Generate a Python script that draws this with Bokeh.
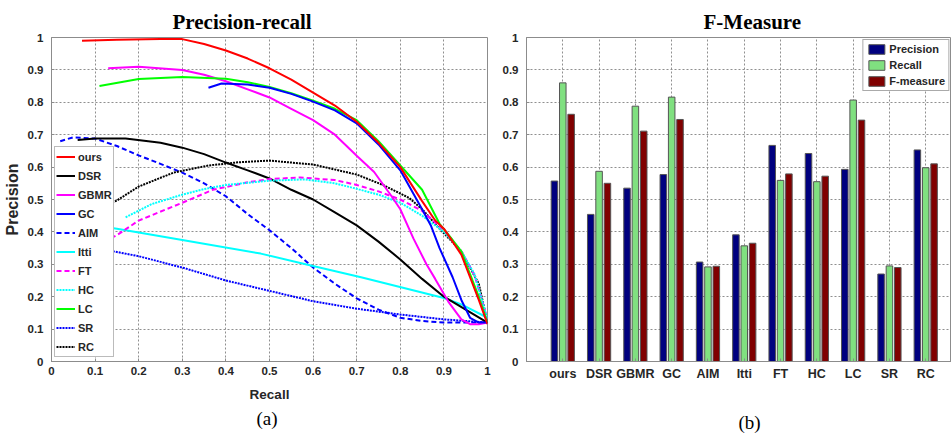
from bokeh.plotting import figure
from bokeh.layouts import row
from bokeh.models import Legend, LegendItem, Title, FixedTicker, ColumnDataSource
from bokeh.transform import dodge
from bokeh.embed import file_html
from bokeh.resources import INLINE

# ---------------- data: precision-recall curves ----------------
ours_r = [0.07, 0.15, 0.25, 0.3, 0.35, 0.4, 0.45, 0.5, 0.55, 0.6, 0.65, 0.7, 0.75, 0.8, 0.85, 0.88, 0.9, 0.92, 0.94, 0.96, 0.98, 1.0]
ours_p = [0.99, 0.993, 0.995, 0.995, 0.98, 0.96, 0.935, 0.905, 0.87, 0.83, 0.79, 0.74, 0.675, 0.6, 0.495, 0.435, 0.41, 0.37, 0.33, 0.26, 0.19, 0.115]

dsr_r = [0.06, 0.1, 0.17, 0.25, 0.3, 0.35, 0.4, 0.45, 0.5, 0.55, 0.6, 0.65, 0.7, 0.75, 0.8, 0.85, 0.9, 0.95, 1.0]
dsr_p = [0.684, 0.688, 0.688, 0.675, 0.66, 0.64, 0.614, 0.59, 0.565, 0.53, 0.5, 0.46, 0.42, 0.37, 0.315, 0.255, 0.2, 0.16, 0.12]

gbmr_r = [0.13, 0.2, 0.3, 0.35, 0.4, 0.45, 0.5, 0.55, 0.6, 0.65, 0.7, 0.74, 0.78, 0.8, 0.83, 0.86, 0.88, 0.91, 0.94, 0.96, 0.98, 1.0]
gbmr_p = [0.905, 0.91, 0.9, 0.885, 0.865, 0.84, 0.815, 0.78, 0.745, 0.7, 0.635, 0.585, 0.51, 0.47, 0.38, 0.3, 0.255, 0.185, 0.13, 0.115, 0.115, 0.12]

gc_r = [0.36, 0.39, 0.45, 0.5, 0.55, 0.6, 0.65, 0.7, 0.75, 0.8, 0.85, 0.87, 0.89, 0.92, 0.94, 0.96, 0.98, 1.0]
gc_p = [0.845, 0.858, 0.855, 0.845, 0.826, 0.802, 0.775, 0.735, 0.67, 0.59, 0.47, 0.42, 0.35, 0.26, 0.19, 0.135, 0.12, 0.12]

aim_r = [0.02, 0.05, 0.1, 0.15, 0.2, 0.25, 0.3, 0.35, 0.4, 0.45, 0.5, 0.55, 0.6, 0.65, 0.7, 0.75, 0.8, 0.85, 0.9, 0.95, 1.0]
aim_p = [0.68, 0.692, 0.688, 0.665, 0.636, 0.61, 0.583, 0.55, 0.51, 0.455, 0.405, 0.35, 0.29, 0.24, 0.195, 0.16, 0.135, 0.125, 0.12, 0.12, 0.12]

itti_r = [0.1, 0.15, 0.3, 0.48, 0.59, 0.71, 0.9, 0.94, 1.0]
itti_p = [0.42, 0.41, 0.375, 0.333, 0.298, 0.26, 0.196, 0.176, 0.135]

ft_r = [0.12, 0.15, 0.2, 0.3, 0.37, 0.45, 0.5, 0.57, 0.65, 0.7, 0.75, 0.8, 0.85, 0.9, 0.94, 0.97, 1.0]
ft_p = [0.37, 0.39, 0.435, 0.49, 0.53, 0.553, 0.563, 0.568, 0.56, 0.545, 0.525, 0.5, 0.465, 0.405, 0.34, 0.268, 0.13]

hc_r = [0.17, 0.23, 0.3, 0.35, 0.4, 0.5, 0.58, 0.65, 0.7, 0.75, 0.8, 0.85, 0.9, 0.94, 0.97, 1.0]
hc_p = [0.445, 0.486, 0.515, 0.532, 0.545, 0.558, 0.562, 0.55, 0.533, 0.515, 0.49, 0.45, 0.4, 0.34, 0.27, 0.13]

lc_r = [0.11, 0.2, 0.3, 0.4, 0.45, 0.5, 0.55, 0.6, 0.65, 0.7, 0.75, 0.8, 0.85, 0.89, 0.92, 0.94, 0.96, 0.98, 1.0]
lc_p = [0.85, 0.872, 0.878, 0.873, 0.862, 0.847, 0.828, 0.805, 0.78, 0.745, 0.68, 0.605, 0.53, 0.425, 0.375, 0.34, 0.27, 0.2, 0.12]

sr_r = [0.1, 0.15, 0.2, 0.3, 0.4, 0.5, 0.6, 0.7, 0.8, 0.9, 1.0]
sr_p = [0.35, 0.338, 0.325, 0.29, 0.25, 0.218, 0.186, 0.163, 0.145, 0.13, 0.12]

rc_r = [0.12, 0.15, 0.2, 0.28, 0.36, 0.43, 0.5, 0.6, 0.7, 0.76, 0.82, 0.85, 0.89, 0.94, 0.98, 1.0]
rc_p = [0.48, 0.497, 0.54, 0.583, 0.605, 0.615, 0.62, 0.608, 0.577, 0.545, 0.505, 0.47, 0.41, 0.34, 0.24, 0.12]

# ---------------- data: F-measure bars ----------------
methods = ["ours", "DSR", "GBMR", "GC", "AIM", "Itti", "FT", "HC", "LC", "SR", "RC"]
precision = [0.557, 0.454, 0.535, 0.577, 0.307, 0.391, 0.667, 0.642, 0.593, 0.270, 0.653]
recall    = [0.860, 0.587, 0.788, 0.816, 0.292, 0.357, 0.559, 0.555, 0.807, 0.295, 0.598]
fmeasure  = [0.763, 0.550, 0.711, 0.747, 0.294, 0.365, 0.579, 0.572, 0.745, 0.290, 0.610]

unit_ticks = [0, 0.1, 0.2, 0.3, 0.4, 0.5, 0.6, 0.7, 0.8, 0.9, 1]
unit_tick_labels = ["0", "0.1", "0.2", "0.3", "0.4", "0.5", "0.6", "0.7", "0.8", "0.9", "1"]

SANS = "Liberation Sans"
SERIF = "Liberation Serif"
GRID = "#8f8f8f"
AXIS = "#8c8c8c"
TXT = "#262626"


def style(p):
    p.outline_line_color = AXIS
    p.background_fill_color = "white"
    p.border_fill_color = "white"
    p.grid.grid_line_color = GRID
    p.grid.grid_line_dash = "2 2"
    p.grid.grid_line_width = 1
    for ax in p.axis:
        ax.axis_line_color = AXIS
        ax.major_tick_line_color = AXIS
        ax.major_tick_in = 3
        ax.major_tick_out = 0
        ax.minor_tick_line_color = None
        ax.major_label_text_font = SANS
        ax.major_label_text_font_style = "bold"
        ax.major_label_text_color = TXT
    p.yaxis.ticker = FixedTicker(ticks=unit_ticks)
    p.yaxis.major_label_overrides = dict(zip(unit_ticks, unit_tick_labels))
    p.yaxis.major_label_text_font_size = "11.5px"
    p.yaxis.major_label_standoff = 8
    p.xaxis.major_label_standoff = 5
    p.xaxis.axis_label_text_font = SANS
    p.xaxis.axis_label_text_font_style = "bold"
    p.xaxis.axis_label_text_font_size = "13.5px"
    p.xaxis.axis_label_text_color = TXT
    p.xaxis.axis_label_standoff = 5
    p.title.text_font = SERIF
    p.title.text_font_style = "bold"
    p.title.text_font_size = "21px"
    p.title.text_color = "black"
    p.title.align = "left"
    p.title.standoff = 8


def caption(p, text, left_offset, standoff):
    p.add_layout(Title(text=text, align="left", offset=left_offset, text_font=SERIF,
                       text_font_style="normal", text_font_size="19px", text_color="black",
                       standoff=standoff), "below")


# ---------------- left: precision-recall ----------------
p1 = figure(width=492, height=435, x_range=(0, 1), y_range=(0, 1),
            title="Precision-recall",
            output_backend="svg", toolbar_location=None,
            min_border_left=50, min_border_right=5, min_border_top=37, min_border_bottom=71)
style(p1)
p1.title.offset = 121
p1.xaxis.ticker = FixedTicker(ticks=unit_ticks)
p1.xaxis.major_label_overrides = dict(zip(unit_ticks, unit_tick_labels))
p1.xaxis.major_label_text_font_size = "11.5px"
p1.xaxis.axis_label = "Recall"
p1.xaxis.axis_label_standoff = 9
p1.yaxis.axis_label = "Precision"
p1.yaxis.axis_label_text_font = SANS
p1.yaxis.axis_label_text_font_style = "bold"
p1.yaxis.axis_label_text_font_size = "16px"
p1.yaxis.axis_label_text_color = TXT
p1.yaxis.axis_label_standoff = 4

series = [
    ("ours", ours_r, ours_p, "#FF0000", "solid"),
    ("DSR", dsr_r, dsr_p, "#000000", "solid"),
    ("GBMR", gbmr_r, gbmr_p, "#FF00FF", "solid"),
    ("GC", gc_r, gc_p, "#0000FF", "solid"),
    ("AIM", aim_r, aim_p, "#0000FF", "5 3"),
    ("Itti", itti_r, itti_p, "#00FFFF", "solid"),
    ("FT", ft_r, ft_p, "#FF00FF", "5 3"),
    ("HC", hc_r, hc_p, "#00FFFF", "2 1"),
    ("LC", lc_r, lc_p, "#00FF00", "solid"),
    ("SR", sr_r, sr_p, "#0000FF", "2 1"),
    ("RC", rc_r, rc_p, "#000000", "2 1"),
]
draw_order = ["SR", "AIM", "Itti", "DSR", "RC", "FT", "HC", "GBMR", "LC", "GC", "ours"]
renderers = {}
for name in draw_order:
    s = [t for t in series if t[0] == name][0]
    renderers[name] = p1.line(s[1], s[2], line_color=s[3], line_width=2, line_dash=s[4])

leg1 = Legend(items=[LegendItem(label=s[0], renderers=[renderers[s[0]]]) for s in series],
              location=(3, 4), margin=0, padding=1, spacing=2,
              glyph_width=19, glyph_height=17, label_height=17, label_standoff=3,
              label_text_font=SANS, label_text_font_style="bold", label_text_font_size="11px",
              label_text_color=TXT,
              border_line_color="#777777", border_line_width=1, background_fill_alpha=1.0)
p1.add_layout(leg1)
caption(p1, "(a)", 205, 2)

# ---------------- right: F-measure bars ----------------
xpos = list(range(1, len(methods) + 1))
src = ColumnDataSource(dict(x=xpos, precision=precision, recall=recall, fmeasure=fmeasure))

p2 = figure(width=459, height=435, x_range=(0, 11.71), y_range=(0, 1),
            title="F-Measure",
            output_backend="svg", toolbar_location=None,
            min_border_left=34, min_border_right=0, min_border_top=37, min_border_bottom=71)
style(p2)
p2.title.offset = 177
p2.xaxis.ticker = FixedTicker(ticks=xpos)
p2.xaxis.major_label_overrides = dict(zip(xpos, methods))
p2.xaxis.major_label_text_font_size = "12.5px"
p2.xaxis.axis_label = " "

bw = 0.18
b1 = p2.vbar(x=dodge("x", -0.23, range=p2.x_range), top="precision", width=bw, source=src,
             fill_color="#00007F", line_color="#555555", line_width=1)
b2 = p2.vbar(x=dodge("x", 0.0, range=p2.x_range), top="recall", width=bw, source=src,
             fill_color="#80E080", line_color="#555555", line_width=1)
b3 = p2.vbar(x=dodge("x", 0.23, range=p2.x_range), top="fmeasure", width=bw, source=src,
             fill_color="#800000", line_color="#555555", line_width=1)

leg2 = Legend(items=[LegendItem(label="Precision", renderers=[b1]),
                     LegendItem(label="Recall", renderers=[b2]),
                     LegendItem(label="F-measure", renderers=[b3])],
              location="top_right", margin=2, padding=3, spacing=4,
              glyph_width=20, glyph_height=12, label_height=12, label_standoff=3,
              label_text_font=SANS, label_text_font_style="bold", label_text_font_size="11px",
              label_text_color=TXT,
              border_line_color="#555555", border_line_width=1, background_fill_alpha=1.0)
p2.add_layout(leg2)
caption(p2, "(b)", 212, 6)

layout = row(p1, p2)
open("out.html", "w").write(file_html(layout, INLINE))
